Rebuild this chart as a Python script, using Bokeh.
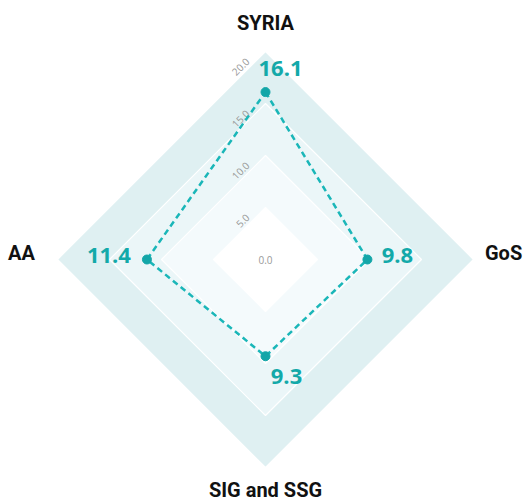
import numpy as np
from bokeh.plotting import figure
from bokeh.models import Range1d, ColumnDataSource
from bokeh.core.properties import value
from bokeh.embed import file_html
from bokeh.resources import INLINE

# ---- data ----
categories = ["SYRIA", "GoS", "SIG and SSG", "AA"]
values = [16.1, 9.8, 9.3, 11.4]
ring_levels = [20.0, 15.0, 10.0, 5.0]
tick_labels = ["20.0", "15.0", "10.0", "5.0"]
ring_colors = ["#dff0f2", "#ebf6f8", "#f4fafc", "#ffffff"]

# ---- geometry ----
W, H = 531, 501
cx_px, cy_px = 265, 259          # centre of the radar in canvas pixels
px_per_unit = 208 / 20.0

p = figure(width=W, height=H, output_backend="svg", toolbar_location=None,
           x_range=Range1d(-cx_px / px_per_unit, (W - cx_px) / px_per_unit),
           y_range=Range1d(-(H - cy_px) / px_per_unit, cy_px / px_per_unit),
           min_border=0)
p.axis.visible = False
p.grid.visible = False
p.outline_line_color = None
p.background_fill_color = "white"
p.border_fill_color = "white"

# axis directions: top, right, bottom, left
angles = np.pi / 2 - np.arange(len(categories)) * (2 * np.pi / len(categories))
dx, dy = np.cos(angles), np.sin(angles)

# rings
for lvl, col in zip(ring_levels, ring_colors):
    p.patch(list(dx * lvl), list(dy * lvl), fill_color=col, line_color="white", line_width=1.2)

# tick labels along the top axis
p.text(x=[0] * len(ring_levels), y=ring_levels, text=tick_labels,
       angle=np.deg2rad(45), text_align="right", text_baseline="middle",
       x_offset=-18, y_offset=8, text_font=value("Open Sans"),
       text_font_size="10px", text_color="#999999")
p.text(x=[0], y=[0], text=["0.0"], text_align="center", text_baseline="middle",
       text_font=value("Open Sans"), text_font_size="10px", text_color="#999999")

# data polygon
vx = list(dx * np.array(values))
vy = list(dy * np.array(values))
p.line(vx + [vx[0]], vy + [vy[0]], line_color="#1ab6b8", line_width=2.5, line_dash="6 4")
p.scatter(vx, vy, size=9, fill_color="#13a6a8", line_color="#13a6a8")

# value labels
val_src = ColumnDataSource(dict(x=vx, y=vy, t=[f"{v:.1f}" for v in values],
                                xo=[15, 30, 21, -38], yo=[-24, -4, 20, -4]))
p.text(x="x", y="y", text="t", x_offset="xo", y_offset="yo", source=val_src,
       text_align="center", text_baseline="middle", text_font=value("Open Sans"),
       text_font_style="bold", text_font_size="22px", text_color="#13a9a9")

# category labels
lab_r = 22.7
cat_src = ColumnDataSource(dict(x=list(dx * lab_r), y=list(dy * lab_r), t=categories,
                                xo=[0, 2, 0, -8], yo=[0, -7, -6, -7]))
p.text(x="x", y="y", text="t", x_offset="xo", y_offset="yo", source=cat_src,
       text_align="center", text_baseline="middle", text_font=value("Roboto"),
       text_font_style="bold", text_font_size="20px", text_color="#111111")

open("out.html", "w").write(file_html(p, INLINE))
